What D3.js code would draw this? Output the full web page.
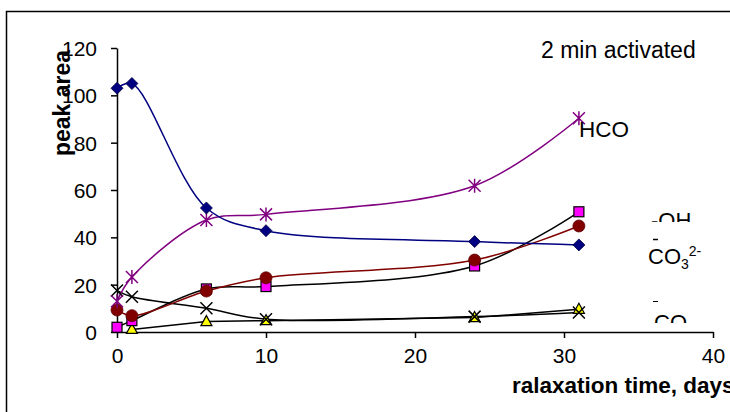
<!DOCTYPE html>
<html>
<head>
<meta charset="utf-8">
<script src="https://cdn.jsdelivr.net/npm/d3@7"></script>
<style>
body { margin: 0; background: #fff; }
text { font-family: "Liberation Sans", Arial, sans-serif; }
</style>
</head>
<body>
<script>
// relaxation time, days
var days = [0, 1, 6, 10, 24, 31];
var daysTri = [1, 6, 10, 24, 31];

// peak areas
var blueVals = [103, 105, 52.4, 42.8, 38.2, 36.8];
var purpleVals = [13, 23.2, 47.3, 49.7, 61.8, 90.3];
var redVals = [9.3, 6.9, 17.3, 22.9, 30.4, 44.8];
var magentaVals = [2, 4.8, 18.2, 19.2, 27.9, 50.8];
var crossVals = [17.5, 14.9, 10, 5.4, 6.5, 8.2];
var yellowVals = [1.1, 4.4, 4.8, 6.1, 9.6];

var xTicks = [0, 10, 20, 30, 40];
var yTicks = [0, 20, 40, 60, 80, 100, 120];

var w = 730, h = 412;

var x = d3.scaleLinear().domain([0, 40]).range([117, 713]);
var y = d3.scaleLinear().domain([0, 120]).range([332, 48]);

var svg = d3.select("body").append("svg")
	.attr("width", w)
	.attr("height", h);

// outer frame
svg.append("rect")
	.attr("x", 6.5).attr("y", 11.5)
	.attr("width", 800).attr("height", 500)
	.attr("fill", "none").attr("stroke", "#000").attr("stroke-width", 1.5);

// axes
var xAxis = svg.append("g")
	.attr("transform", "translate(0," + y(0) + ")")
	.call(d3.axisBottom(x).tickValues(xTicks).tickSize(6).tickSizeOuter(0));
var yAxis = svg.append("g")
	.attr("transform", "translate(" + x(0) + ",0)")
	.call(d3.axisLeft(y).tickValues(yTicks).tickSize(6).tickSizeOuter(0));

[xAxis, yAxis].forEach(function(a) {
	a.select(".domain").attr("stroke", "#000").attr("stroke-width", 1.5);
	a.selectAll(".tick line").attr("stroke", "#000").attr("stroke-width", 1.5);
	a.selectAll(".tick text")
		.attr("fill", "#000")
		.attr("font-size", "21px")
		.attr("font-family", "Liberation Sans, Arial, sans-serif");
});
xAxis.selectAll(".tick text").attr("y", 16).attr("dy", "0.71em");
yAxis.selectAll(".tick text").attr("x", -20).attr("dy", "0.35em");

function pts(xs, vs) {
	return xs.map(function(d, i) { return [d, vs[i]]; });
}

var smooth = d3.line()
	.x(function(d) { return x(d[0]); })
	.y(function(d) { return y(d[1]); })
	.curve(d3.curveCatmullRom.alpha(0.5));

var straight = d3.line()
	.x(function(d) { return x(d[0]); })
	.y(function(d) { return y(d[1]); });

var series = [
	{ data: pts(daysTri, yellowVals), line: "#000", gen: straight, mark: "tri" },
	{ data: pts(days, crossVals), line: "#000", gen: smooth, mark: "x" },
	{ data: pts(days, magentaVals), line: "#000", gen: smooth, mark: "square" },
	{ data: pts(days, redVals), line: "#800000", gen: smooth, mark: "circle" },
	{ data: pts(days, purpleVals), line: "#800080", gen: smooth, mark: "star" },
	{ data: pts(days, blueVals), line: "#000080", gen: smooth, mark: "diamond" }
];

series.forEach(function(s) {
	svg.append("path")
		.attr("d", s.gen(s.data))
		.attr("fill", "none")
		.attr("stroke", s.line)
		.attr("stroke-width", 1.5);
});

series.forEach(function(s) {
	var g = svg.append("g");
	var m = g.selectAll("g").data(s.data).enter().append("g")
		.attr("transform", function(d) { return "translate(" + x(d[0]) + "," + y(d[1]) + ")"; });
	if (s.mark == "diamond") {
		m.append("path").attr("d", "M0,-6L6,0L0,6L-6,0Z")
			.attr("fill", "#000080").attr("stroke", "#000040").attr("stroke-width", 0.8);
	} else if (s.mark == "square") {
		m.append("rect").attr("x", -5).attr("y", -5).attr("width", 10).attr("height", 10)
			.attr("fill", "#ff00ff").attr("stroke", "#000").attr("stroke-width", 1.2);
	} else if (s.mark == "circle") {
		m.append("circle").attr("r", 6)
			.attr("fill", "#800000").attr("stroke", "#600000").attr("stroke-width", 0.8);
	} else if (s.mark == "tri") {
		m.append("path").attr("d", "M0,-6L5.5,4L-5.5,4Z")
			.attr("fill", "#ffff00").attr("stroke", "#000").attr("stroke-width", 1.2);
	} else if (s.mark == "x") {
		m.append("path").attr("d", "M-6,-6L6,6M-6,6L6,-6")
			.attr("stroke", "#000").attr("stroke-width", 1.5);
	} else if (s.mark == "star") {
		m.append("path").attr("d", "M-6,-6L6,6M-6,6L6,-6M0,-7L0,7")
			.attr("stroke", "#800080").attr("stroke-width", 1.5);
	}
});

// axis titles
svg.append("text")
	.attr("transform", "translate(70,103) rotate(-90)")
	.attr("text-anchor", "middle")
	.attr("font-size", "23px").attr("font-weight", "bold")
	.text("peak area");

svg.append("text")
	.attr("x", 512).attr("y", 393)
	.attr("font-size", "22.5px").attr("font-weight", "bold")
	.text("ralaxation time, days");

svg.append("text")
	.attr("x", 541).attr("y", 58)
	.attr("font-size", "23px")
	.text("2 min activated");

// series labels (text boxes, partly clipped as in the original)
var defs = svg.append("defs");
defs.append("clipPath").attr("id", "clipOH")
	.append("rect").attr("x", 600).attr("y", 190).attr("width", 130).attr("height", 32);
defs.append("clipPath").attr("id", "clipCO")
	.append("rect").attr("x", 600).attr("y", 290).attr("width", 130).attr("height", 33);

svg.append("text")
	.attr("x", 579).attr("y", 137)
	.attr("font-size", "22.5px")
	.text("HCO");

svg.append("text")
	.attr("x", 651).attr("y", 228)
	.attr("font-size", "22px")
	.attr("clip-path", "url(#clipOH)")
	.text("-OH");

// stray dashes left from clipped label lines
svg.append("line")
	.attr("x1", 653).attr("x2", 658).attr("y1", 239.5).attr("y2", 239.5)
	.attr("stroke", "#000").attr("stroke-width", 1.5);
svg.append("line")
	.attr("x1", 653).attr("x2", 658).attr("y1", 301.5).attr("y2", 301.5)
	.attr("stroke", "#000").attr("stroke-width", 1);

var co3 = svg.append("text")
	.attr("x", 648).attr("y", 264)
	.attr("font-size", "22px");
co3.append("tspan").text("CO");
co3.append("tspan").attr("font-size", "14px").attr("dy", 5).text("3");
co3.append("tspan").attr("font-size", "14px").attr("dy", -13).text("2-");

svg.append("text")
	.attr("x", 654).attr("y", 330)
	.attr("font-size", "22px")
	.attr("clip-path", "url(#clipCO)")
	.text("CO");
</script>
</body>
</html>
